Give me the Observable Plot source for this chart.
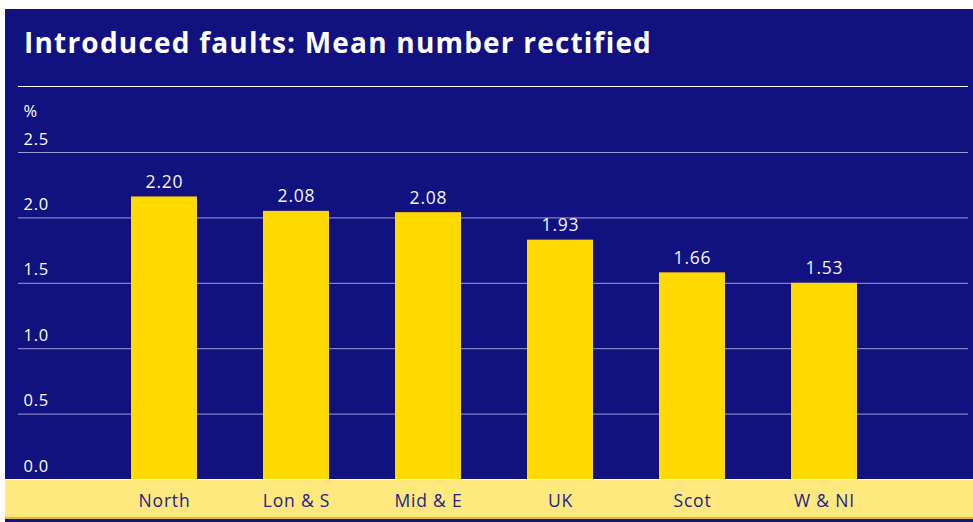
<!DOCTYPE html>
<html>
<head>
<meta charset="utf-8">
<script src="https://cdn.jsdelivr.net/npm/d3@7"></script>
<script src="https://cdn.jsdelivr.net/npm/@observablehq/plot@0.6"></script>
<style>
  html, body { margin: 0; padding: 0; background: #ffffff; }
  #page { position: relative; width: 973px; height: 522px; overflow: hidden; font-family: "Open Sans", sans-serif; }
  #panel { position: absolute; left: 5px; top: 9px; right: 0; bottom: 0; background: #111180; }
  #title { position: absolute; left: 24px; top: 20px; color: #ffffff; font-size: 28px; font-weight: 700; line-height: 44px; white-space: nowrap; letter-spacing: 1.2px; }
  #titleRule { position: absolute; left: 18px; top: 86px; width: 950px; height: 1px; background: #ffffff; }
  #band { position: absolute; left: 5px; right: 0; top: 479px; height: 40px; background: #ffe97f; border-top: 1px solid #ffffff; border-bottom: 2px solid #e8b830; box-sizing: border-box; }
  #chart { position: absolute; left: 0; top: 87px; }
</style>
</head>
<body>
<div id="page">
  <div id="panel"></div>
  <div id="title">Introduced faults: Mean number rectified</div>
  <div id="titleRule"></div>
  <div id="band"></div>
  <div id="chart"></div>
</div>
<script>
// Categories (regions)
const categories = ["North", "Lon & S", "Mid & E", "UK", "Scot", "W & NI"];
// Bar heights as drawn in the picture
const barHeights = [2.16, 2.05, 2.04, 1.83, 1.58, 1.50];
// Values printed above the bars
const valueLabels = ["2.20", "2.08", "2.08", "1.93", "1.66", "1.53"];
// Y-axis tick values and labels
const yTicks = [0, 0.5, 1.0, 1.5, 2.0, 2.5];
const yTickLabels = ["0.0", "0.5", "1.0", "1.5", "2.0", "2.5"];
const yUnit = "%";

const data = categories.map((c, i) => ({cat: c, h: barHeights[i], label: valueLabels[i]}));
const ticks = yTicks.map((v, i) => ({v, t: yTickLabels[i]}));

const chart = Plot.plot({
  width: 973,
  height: 435,
  marginLeft: 18,
  marginRight: 5,
  marginTop: 65,
  marginBottom: 43,
  style: {background: "transparent", fontFamily: "Open Sans, sans-serif", overflow: "visible", letterSpacing: "0.8px"},
  x: {type: "band", domain: categories, range: [65, 923], paddingInner: 0.5, paddingOuter: 0.5, axis: null},
  y: {domain: [0, 2.5], axis: null},
  marks: [
    Plot.ruleY(ticks.filter(d => d.v > 0), {y: "v", stroke: "#9d9dd2", strokeWidth: 1}),
    Plot.text(ticks, {y: "v", text: "t", frameAnchor: "left", textAnchor: "start", lineAnchor: "bottom", dx: 5, dy: -8, fill: "#ffffff", fontSize: 16.5}),
    Plot.text([yUnit], {frameAnchor: "top-left", textAnchor: "start", lineAnchor: "bottom", dx: 5, dy: -36, fill: "#ffffff", fontSize: 16.5}),
    Plot.barY(data, {x: "cat", y: "h", fill: "#ffd900"}),
    Plot.text(data, {x: "cat", y: "h", text: "label", lineAnchor: "bottom", dy: -9, fill: "#f4f4ff", fontSize: 17.5}),
    Plot.text(data, {x: "cat", y: () => 0, text: "cat", lineAnchor: "bottom", dy: 27, fill: "#23238a", fontSize: 17.5})
  ]
});
document.getElementById("chart").appendChild(chart);
</script>
</body>
</html>
